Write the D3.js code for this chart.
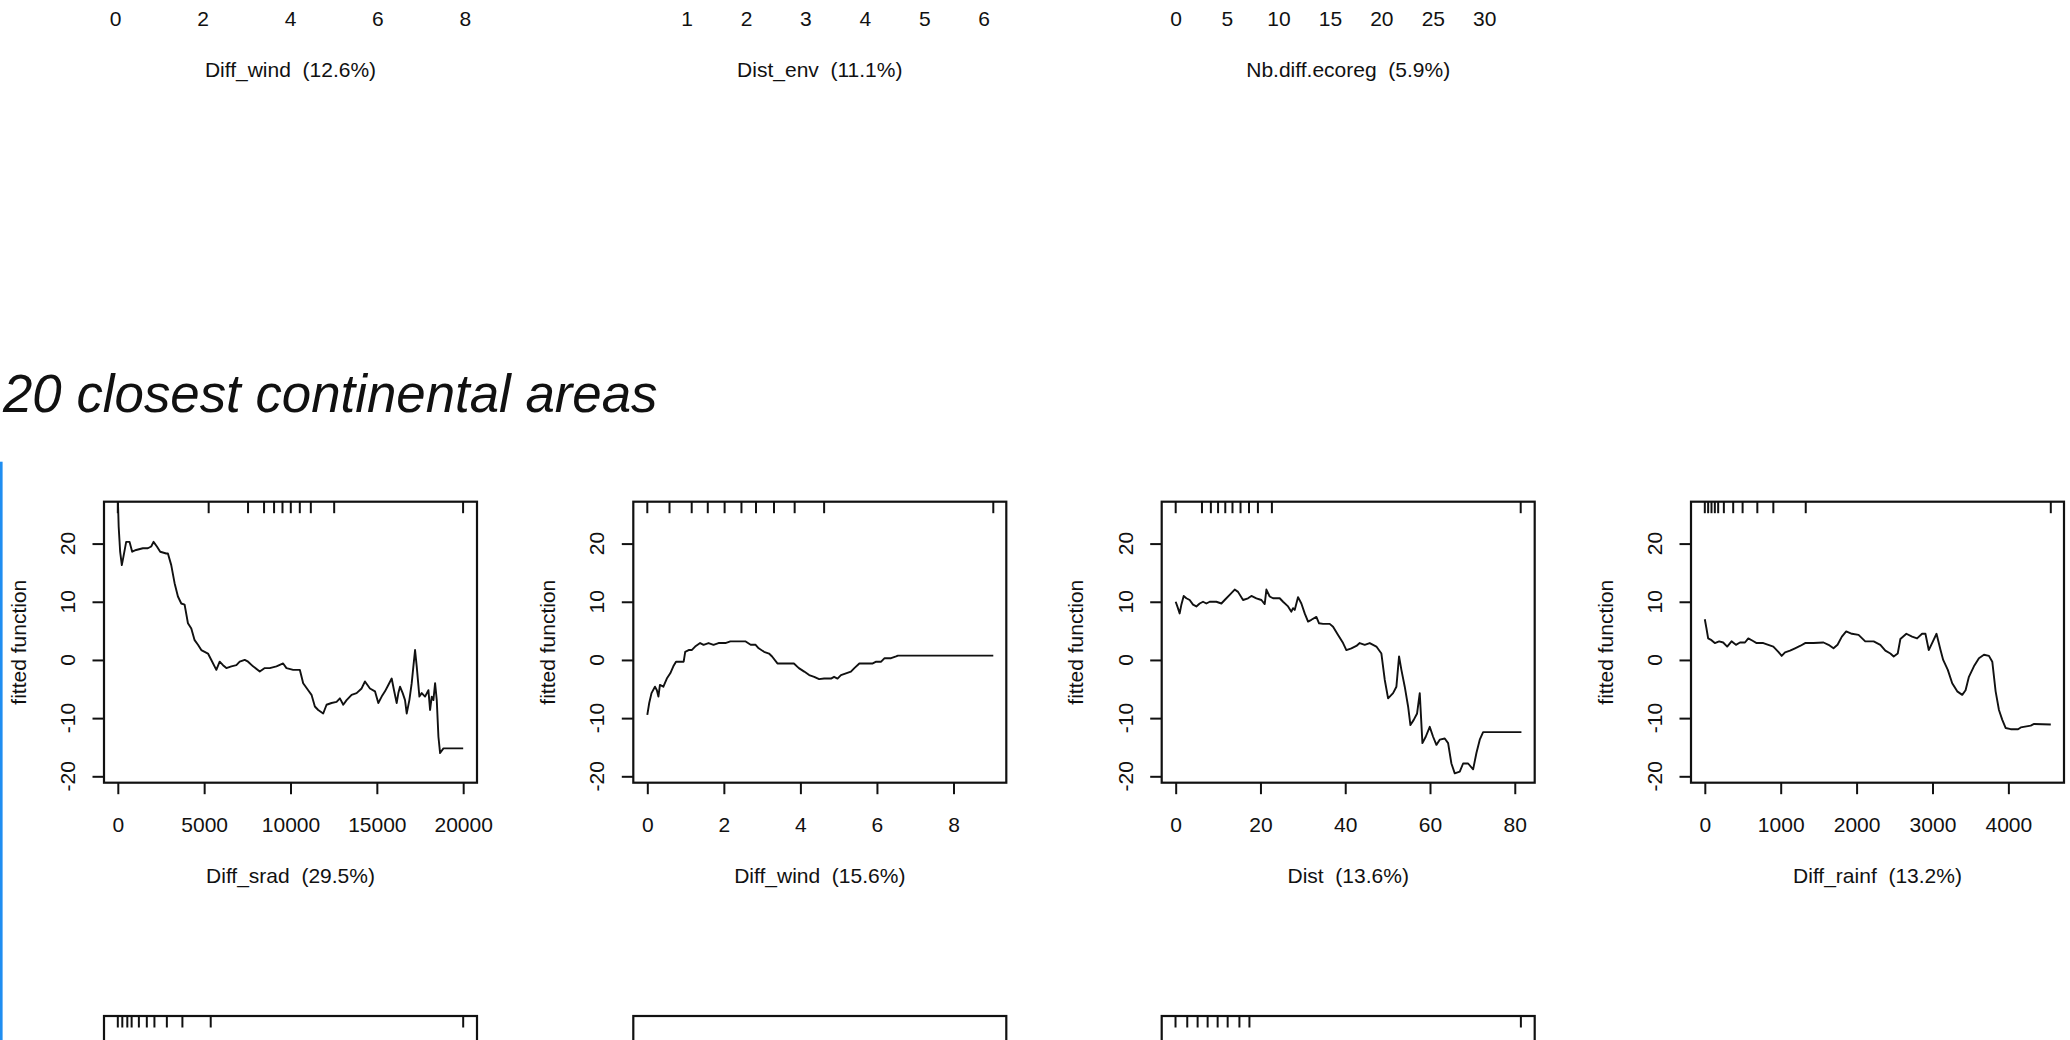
<!DOCTYPE html>
<html><head><meta charset="utf-8">
<script src="https://cdn.jsdelivr.net/npm/d3@7"></script>
<style>
html,body{margin:0;padding:0;background:#fff;overflow:hidden}
svg text{font-family:"Liberation Sans",Arial,sans-serif;fill:#111}
</style></head><body>
<svg id="c" width="2070" height="1040"></svg>
<script>
// ---------- data ----------
const sectionTitle = "20 closest continental areas";
const yLabel = "fitted function";
const yTicks = [-20, -10, 0, 10, 20];
const yDomain = [-21.1, 27.2];

// top row (partially visible figure above)
const topTitles = ["Diff_wind  (12.6%)", "Dist_env  (11.1%)", "Nb.diff.ecoreg  (5.9%)"];
const topXDomains = [[-0.256, 8.28], [0.104, 6.38], [-1.34, 34.9]];
const topXTicks = [[0, 2, 4, 6, 8], [1, 2, 3, 4, 5, 6], [0, 5, 10, 15, 20, 25, 30]];

// main row
const mainTitles = ["Diff_srad  (29.5%)", "Diff_wind  (15.6%)", "Dist  (13.6%)", "Diff_rainf  (13.2%)"];
const mainXDomains = [[-800, 20800], [-0.366, 9.38], [-3.3, 84.7], [-182, 4733]];
const mainXTicks = [[0, 5000, 10000, 15000, 20000], [0, 2, 4, 6, 8], [0, 20, 40, 60, 80], [0, 1000, 2000, 3000, 4000]];

const rugSrad = [0, 5261, 7541, 8469, 9049, 9536, 10017, 10539, 11177, 12529, 19994];
const rugWind = [0, 0.58, 1.16, 1.58, 2.02, 2.46, 2.84, 3.31, 3.85, 4.62, 9.04];
const rugDist = [0, 6.2, 8.3, 10, 11.7, 13.4, 15.3, 17.3, 19.4, 22.7, 81.4];
const rugRainf = [0, 44, 88, 132, 176, 251, 374, 498, 692, 903, 1330, 4559];

const curveSrad = [[0,28],[50,22.9],[135,18.6],[232,16.3],[329,17.8],[484,20.3],[677,20.3],[832,18.6],[1064,18.9],[1451,19.2],[1741,19.2],[1934,19.5],[2069,20.3],[2263,19.5],[2456,18.6],[2804,18.3],[2901,18.3],[3094,16.3],[3288,13.2],[3481,10.9],[3675,9.7],[3868,9.5],[4061,6.3],[4255,5.4],[4448,3.4],[4642,2.6],[4835,1.7],[5028,1.4],[5222,1.1],[5415,0],[5705,-1.7],[5899,-0.3],[6092,-0.9],[6286,-1.4],[6576,-1.1],[6866,-0.9],[7059,-0.3],[7349,0],[7543,-0.3],[7833,-1.1],[8220,-2.0],[8510,-1.4],[8800,-1.4],[9187,-1.1],[9573,-0.6],[9767,-1.4],[10154,-1.7],[10540,-1.7],[10734,-4.0],[11024,-5.2],[11217,-6.0],[11411,-8.0],[11604,-8.6],[11894,-9.2],[12088,-7.7],[12378,-7.4],[12668,-7.2],[12861,-6.6],[13055,-7.7],[13248,-6.9],[13538,-6.0],[13828,-5.7],[14118,-4.9],[14312,-3.7],[14602,-4.9],[14892,-5.4],[15085,-7.4],[15279,-6.3],[15472,-5.4],[15665,-4.3],[15859,-3.2],[15994,-5.2],[16149,-7.4],[16246,-5.7],[16342,-4.6],[16497,-5.7],[16632,-6.9],[16729,-9.2],[16884,-6.9],[17019,-4.0],[17116,-1.1],[17213,1.7],[17309,-1.1],[17464,-6.3],[17599,-5.7],[17792,-6.3],[17986,-5.2],[18083,-8.6],[18180,-6.3],[18276,-6.9],[18373,-4.0],[18470,-6.9],[18566,-13.2],[18663,-16.0],[18857,-15.2],[20000,-15.2]];

const curveWind = [[0,-9.45],[0.05,-7.4],[0.11,-5.7],[0.20,-4.6],[0.25,-5.2],[0.29,-6.3],[0.33,-4.3],[0.42,-4.6],[0.51,-3.2],[0.60,-2.3],[0.68,-1.1],[0.75,-0.3],[0.84,-0.3],[0.95,-0.3],[0.99,1.4],[1.08,1.7],[1.16,1.7],[1.25,2.3],[1.38,2.9],[1.47,2.6],[1.60,2.9],[1.73,2.6],[1.86,2.9],[2.04,2.9],[2.17,3.2],[2.35,3.2],[2.56,3.2],[2.70,2.6],[2.83,2.6],[2.91,2.0],[3.05,1.4],[3.18,1.1],[3.26,0.6],[3.40,-0.6],[3.48,-0.6],[3.66,-0.6],[3.83,-0.6],[3.96,-1.4],[4.10,-2.0],[4.23,-2.6],[4.36,-2.9],[4.49,-3.3],[4.62,-3.2],[4.80,-3.2],[4.88,-2.9],[4.97,-3.2],[5.06,-2.6],[5.19,-2.3],[5.32,-2.0],[5.41,-1.4],[5.54,-0.6],[5.67,-0.6],[5.89,-0.6],[5.98,-0.3],[6.11,-0.3],[6.20,0.3],[6.37,0.3],[6.50,0.6],[6.55,0.74],[9.04,0.74]];

const curveDist = [[0,10.0],[0.39,9.2],[0.94,8.0],[1.34,9.5],[1.89,11.0],[2.52,10.6],[3.30,10.3],[4.09,9.5],[4.88,9.2],[5.66,9.7],[6.45,10.0],[7.24,9.7],[8.02,10.0],[9.60,10.0],[10.78,9.7],[11.56,10.3],[12.74,11.2],[13.92,12.1],[14.71,11.7],[15.89,10.3],[17.07,10.6],[17.86,11.0],[19.04,10.6],[20.22,10.3],[21.0,9.6],[21.4,12.1],[22.18,10.9],[22.97,10.6],[24.54,10.6],[25.33,10.0],[26.51,9.2],[27.29,8.3],[27.69,8.9],[28.08,8.6],[28.87,10.8],[29.65,9.7],[30.44,8.0],[31.23,6.6],[32.01,6.9],[33.19,7.4],[33.82,6.3],[34.77,6.2],[36.34,6.2],[37.13,5.7],[38.31,4.3],[39.49,2.9],[40.27,1.7],[41.45,2.0],[42.63,2.4],[43.42,2.9],[44.60,2.6],[45.78,2.9],[47.35,2.3],[48.53,1.1],[49.32,-3.4],[50.11,-6.6],[51.29,-5.7],[52.07,-4.6],[52.70,0.6],[53.25,-1.7],[54.04,-4.6],[54.83,-8.0],[55.38,-11.2],[56.16,-10.3],[56.95,-9.2],[57.58,-5.7],[58.21,-14.3],[58.99,-13.2],[59.94,-11.5],[60.73,-13.2],[61.51,-14.6],[62.30,-13.7],[63.48,-13.5],[64.27,-14.3],[65.05,-17.8],[65.84,-19.5],[67.02,-19.2],[67.81,-17.8],[68.99,-17.8],[70.17,-18.8],[70.95,-16.0],[71.74,-13.7],[72.53,-12.4],[81.57,-12.4]];

const curveRainf = [[0,7.0],[22,5.4],[44,3.7],[88,3.4],[132,2.9],[189,3.2],[242,3.0],[295,2.3],[352,3.2],[410,2.6],[463,3.0],[529,3.0],[573,3.7],[630,3.3],[683,2.9],[771,2.9],[837,2.6],[903,2.3],[969,1.4],[1013,0.7],[1057,1.3],[1123,1.6],[1189,2.0],[1255,2.4],[1322,2.9],[1432,2.9],[1564,3.0],[1630,2.6],[1696,2.0],[1749,2.6],[1806,4.0],[1863,4.9],[1938,4.5],[2026,4.3],[2114,3.2],[2225,3.2],[2313,2.6],[2379,1.6],[2445,1.1],[2489,0.6],[2542,1.1],[2577,3.6],[2656,4.5],[2731,4.0],[2797,3.7],[2863,4.5],[2907,4.5],[2951,1.7],[2995,2.9],[3053,4.5],[3106,1.7],[3141,0],[3202,-1.7],[3260,-4.0],[3326,-5.4],[3392,-6.0],[3436,-5.2],[3480,-2.9],[3546,-1.1],[3612,0.3],[3678,0.9],[3744,0.7],[3788,-0.3],[3832,-5.4],[3876,-8.6],[3920,-10.3],[3965,-11.7],[4031,-11.9],[4128,-11.9],[4163,-11.6],[4295,-11.3],[4339,-11.0],[4559,-11.1]];

const mainCurves = [curveSrad, curveWind, curveDist, curveRainf];
const mainRugs = [rugSrad, rugWind, rugDist, rugRainf];

// bottom row (partially visible figure below), relative units
const bottomXDomain = [-0.04, 1.04];
const bottomRugs = [
  [0, 0.013, 0.0275, 0.040, 0.061, 0.084, 0.106, 0.142, 0.187, 0.269, 1.0],
  [],
  [0, 0.034, 0.064, 0.093, 0.122, 0.151, 0.185, 0.214, 1.0]
];

// ---------- layout ----------
const W = 373, H = 281;
const colLeft = [104, 633.3, 1161.7, 1691];
const mainTop = 501.7;
const topRowTop = -23.5 - H;
const bottomTop = 1016;
const tick = 11.5;
const fs = 21;

const svg = d3.select("#c");

// blue margin line
svg.append("rect").attr("x", 0).attr("y", 461.7).attr("width", 2.6).attr("height", 1040 - 461.7).attr("fill", "#1f8ef1");

svg.append("text").attr("x", 3).attr("y", 411.7)
  .attr("font-size", 52.8).attr("font-style", "italic").text(sectionTitle);

let clipId = 0;
function panel(opts) {
  const { left, top, xDomain, xTicks, title, curve, rug, yText } = opts;
  const g = svg.append("g").attr("transform", `translate(${left},${top})`);
  const x = d3.scaleLinear().domain(xDomain).range([0, W]);
  const y = d3.scaleLinear().domain(yDomain).range([H, 0]);
  const id = "clip" + (clipId++);
  g.append("clipPath").attr("id", id).append("rect").attr("width", W).attr("height", H);

  if (curve) {
    g.append("path").datum(curve).attr("clip-path", `url(#${id})`)
      .attr("fill", "none").attr("stroke", "#111").attr("stroke-width", 1.9)
      .attr("stroke-linejoin", "round")
      .attr("d", d3.line().x(d => x(d[0])).y(d => y(d[1])));
  }
  if (rug && rug.length) {
    g.append("g").selectAll("line").data(rug).join("line")
      .attr("x1", d => x(d)).attr("x2", d => x(d)).attr("y1", 0).attr("y2", tick)
      .attr("stroke", "#111").attr("stroke-width", 2);
  }
  // box
  g.append("rect").attr("width", W).attr("height", H).attr("fill", "none")
    .attr("stroke", "#111").attr("stroke-width", 2.2);

  // x axis
  if (xTicks) {
    const ax = g.append("g").attr("transform", `translate(0,${H})`)
      .call(d3.axisBottom(x).tickValues(xTicks).tickSize(tick).tickFormat(d => String(d)));
    ax.select(".domain").remove();
    ax.selectAll(".tick line").attr("stroke", "#111").attr("stroke-width", 2);
    ax.selectAll(".tick text").attr("y", 49).attr("dy", null)
      .attr("font-size", fs).attr("font-family", null).attr("fill", "#111");
    g.append("text").attr("x", W / 2).attr("y", H + 100).attr("text-anchor", "middle")
      .attr("font-size", fs).attr("xml:space", "preserve").style("white-space", "pre").text(title);
  }
  // y axis ticks (always), labels only where they fall on the page
  const ay = g.append("g")
    .call(d3.axisLeft(y).tickValues(yTicks).tickSize(tick).tickFormat(() => ""));
  ay.select(".domain").remove();
  ay.selectAll(".tick line").attr("stroke", "#111").attr("stroke-width", 2);
  if (yText) {
    g.append("g").selectAll("text").data(yTicks).join("text")
      .attr("transform", d => `translate(-29,${y(d)}) rotate(-90)`)
      .attr("text-anchor", "middle").attr("font-size", fs).text(d => String(d));
    g.append("text").attr("transform", `translate(-78.5,${H / 2}) rotate(-90)`)
      .attr("text-anchor", "middle").attr("font-size", fs).text(yLabel);
  }
}

// top row (only its bottom axis text is on the page)
topTitles.forEach((t, i) => panel({
  left: colLeft[i], top: topRowTop, xDomain: topXDomains[i], xTicks: topXTicks[i],
  title: t, yText: false
}));
// main row
mainTitles.forEach((t, i) => panel({
  left: colLeft[i], top: mainTop, xDomain: mainXDomains[i], xTicks: mainXTicks[i],
  title: t, curve: mainCurves[i], rug: mainRugs[i], yText: true
}));
// bottom row (only its top edge is on the page)
bottomRugs.forEach((r, i) => panel({
  left: colLeft[i], top: bottomTop, xDomain: bottomXDomain, rug: r, yText: false
}));
</script>
</body></html>
